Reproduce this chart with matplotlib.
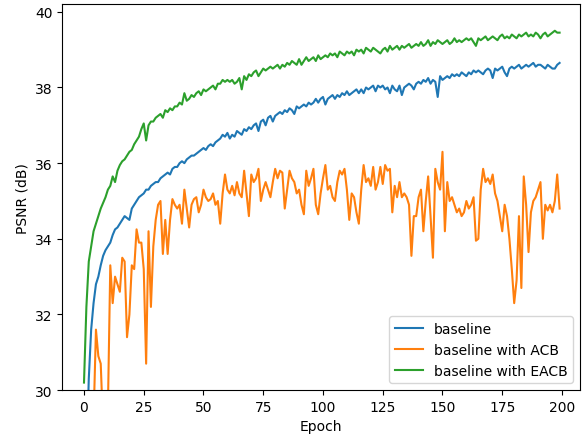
import numpy as np
import matplotlib
matplotlib.use('Agg')
import matplotlib.pyplot as plt

# PSNR per epoch
baseline = [25.5, 28.0, 30.3, 31.6, 32.3, 32.8, 33.0, 33.3, 33.55, 33.7,
            33.8, 33.9, 34.1, 34.25, 34.3, 34.4, 34.5, 34.6, 34.55, 34.5,
            34.8, 34.9, 35.0, 35.1, 35.15, 35.2, 35.3, 35.3, 35.4, 35.45,
            35.5, 35.5, 35.6, 35.65, 35.7, 35.75, 35.7, 35.85, 35.9, 35.9,
            36.0, 36.05, 36.0, 36.1, 36.15, 36.2, 36.2, 36.25, 36.3, 36.35,
            36.4, 36.35, 36.45, 36.5, 36.45, 36.55, 36.6, 36.65, 36.75, 36.7,
            36.8, 36.65, 36.75, 36.7, 36.85, 36.8, 36.75, 36.9, 36.85, 36.95,
            36.9, 37.0, 37.05, 36.85, 37.1, 37.15, 37.0, 37.2, 37.25, 37.1,
            37.25, 37.3, 37.35, 37.3, 37.4, 37.35, 37.45, 37.4, 37.3, 37.5,
            37.45, 37.5, 37.55, 37.5, 37.6, 37.55, 37.6, 37.7, 37.6, 37.7,
            37.75, 37.55, 37.7, 37.75, 37.8, 37.7, 37.8, 37.75, 37.85, 37.8,
            37.9, 37.8, 37.85, 37.9, 37.95, 37.85, 37.95, 37.85, 38.0, 37.95,
            38.0, 38.05, 37.9, 38.05, 38.0, 38.05, 37.95, 38.0, 37.85, 38.05,
            37.95, 37.9, 38.05, 37.8, 38.0, 38.05, 38.1, 38.05, 37.95, 38.1,
            38.15, 38.1, 38.2, 38.15, 38.25, 38.1, 38.2, 38.15, 37.75, 38.3,
            38.2, 38.25, 38.3, 38.25, 38.35, 38.3, 38.35, 38.3, 38.4, 38.35,
            38.3, 38.4, 38.35, 38.45, 38.4, 38.45, 38.4, 38.35, 38.45, 38.5,
            38.45, 38.25, 38.5, 38.45, 38.5, 38.55, 38.4, 38.3, 38.5, 38.55,
            38.5, 38.55, 38.6, 38.5, 38.55, 38.6, 38.55, 38.6, 38.65, 38.55,
            38.6, 38.6, 38.55, 38.5, 38.6, 38.55, 38.5, 38.5, 38.6, 38.65]

acb = [27.0, 27.5, 28.0, 28.5, 29.2, 31.6, 30.9, 30.7, 29.0, 28.5,
       29.5, 33.3, 32.3, 33.0, 32.8, 32.6, 33.5, 33.4, 31.4, 32.0,
       33.3, 33.2, 34.25, 33.9, 33.9, 33.2, 30.7, 34.2, 32.2, 33.8,
       34.5, 34.9, 35.0, 33.6, 34.5, 33.6, 34.5, 35.05, 34.9, 34.8,
       34.9, 34.4, 35.3, 34.8, 34.3, 34.9, 35.05, 35.1, 34.7, 34.9,
       35.3, 35.1, 35.0, 35.05, 35.2, 34.9, 35.0, 34.4, 35.2, 35.7,
       35.3, 35.2, 35.4, 35.15, 35.5, 35.2, 35.1, 35.8, 35.2, 34.6,
       35.7, 35.5, 35.6, 35.85, 35.0, 35.3, 35.5, 35.3, 35.1, 35.5,
       35.85, 35.6, 35.8, 35.75, 34.8, 35.3, 35.8, 35.6, 35.5, 35.2,
       35.3, 34.9, 34.65, 35.8, 35.4, 35.6, 35.85, 34.9, 34.65, 35.2,
       35.6, 35.95, 35.3, 35.4, 35.1, 35.0, 35.5, 35.8, 35.7, 35.85,
       35.3, 34.5, 35.2, 35.1, 34.7, 34.4, 35.3, 35.95, 35.5, 35.6,
       35.4, 35.9, 35.3, 35.5, 35.9, 35.45, 35.95, 35.8, 35.85, 34.7,
       35.4, 35.1, 35.5, 35.1, 35.2, 35.1, 34.9, 33.55, 34.6, 34.6,
       35.1, 35.3, 34.2, 35.0, 35.65, 34.6, 33.5, 35.85, 35.5, 35.3,
       36.3, 34.2, 35.5, 35.0, 35.1, 34.9, 34.7, 34.8, 34.6, 34.7,
       35.0, 34.8, 34.9, 35.1, 33.95, 34.0, 35.3, 35.85, 35.5, 35.6,
       35.45, 35.7, 35.2, 35.0, 34.6, 34.2, 34.9, 34.6, 34.0, 33.2,
       32.3, 32.9, 34.6, 32.7, 35.65, 34.9, 33.65, 34.7, 35.0, 35.1,
       35.3, 35.5, 34.0, 34.9, 34.75, 34.9, 34.7, 35.0, 35.7, 34.8]

eacb = [30.2, 32.2, 33.4, 33.8, 34.2, 34.4, 34.6, 34.8, 34.95, 35.1,
        35.3, 35.4, 35.65, 35.5, 35.8, 35.95, 36.05, 36.1, 36.2, 36.3,
        36.35, 36.5, 36.6, 36.7, 36.9, 37.05, 36.6, 37.0, 37.1, 37.1,
        37.2, 37.25, 37.3, 37.2, 37.4, 37.35, 37.45, 37.4, 37.5, 37.5,
        37.6, 37.55, 37.85, 37.65, 37.7, 37.8, 37.75, 37.85, 37.9, 37.8,
        37.95, 37.9, 37.95, 38.0, 38.05, 37.95, 38.1, 38.1, 38.2, 38.15,
        38.2, 38.15, 38.2, 38.1, 38.15, 38.25, 37.95, 38.3, 38.2, 38.35,
        38.3, 38.4, 38.45, 38.3, 38.4, 38.5, 38.45, 38.5, 38.55, 38.5,
        38.55, 38.6, 38.5, 38.6, 38.55, 38.65, 38.6, 38.7, 38.65, 38.6,
        38.75, 38.6, 38.7, 38.8, 38.7, 38.75, 38.8, 38.7, 38.85, 38.75,
        38.8, 38.85, 38.8, 38.9, 38.85, 38.9, 38.8, 38.95, 38.9, 38.85,
        38.95, 38.9, 38.95, 38.85, 39.0, 38.95, 39.0, 38.9, 39.05, 39.0,
        38.95, 39.05, 39.0, 38.95, 38.9, 39.0, 39.05, 38.95, 39.1, 39.0,
        39.05, 39.1, 39.0, 39.1, 39.05, 39.1, 39.15, 39.05, 39.1, 39.15,
        39.1, 39.2, 39.1, 39.15, 39.25, 39.1, 39.2, 39.15, 39.25, 39.2,
        39.15, 39.2, 39.25, 39.15, 39.2, 39.3, 39.2, 39.25, 39.2, 39.25,
        39.3, 39.25, 39.3, 39.2, 39.1, 39.3, 39.25, 39.3, 39.35, 39.25,
        39.3, 39.35, 39.3, 39.25, 39.35, 39.4, 39.3, 39.35, 39.3, 39.4,
        39.35, 39.3, 39.4, 39.35, 39.4, 39.45, 39.35, 39.4, 39.35, 39.45,
        39.4, 39.3, 39.4, 39.45, 39.35, 39.4, 39.45, 39.5, 39.45, 39.45]

epochs = np.arange(len(baseline))

fig = plt.figure(figsize=(5.84, 4.39), dpi=100)
ax = fig.add_axes([0.107, 0.109, 0.886, 0.879])
ax.plot(epochs, baseline, label='baseline')
ax.plot(epochs, acb, label='baseline with ACB')
ax.plot(epochs, eacb, label='baseline with EACB')
ax.set_xlim(-9, 207.5)
ax.set_ylim(30, 40.2)
ax.set_xticks(np.arange(0, 201, 25))
ax.set_xlabel('Epoch')
ax.set_ylabel('PSNR (dB)')
ax.legend(loc='lower right')
fig.savefig('out.png', dpi=100)
